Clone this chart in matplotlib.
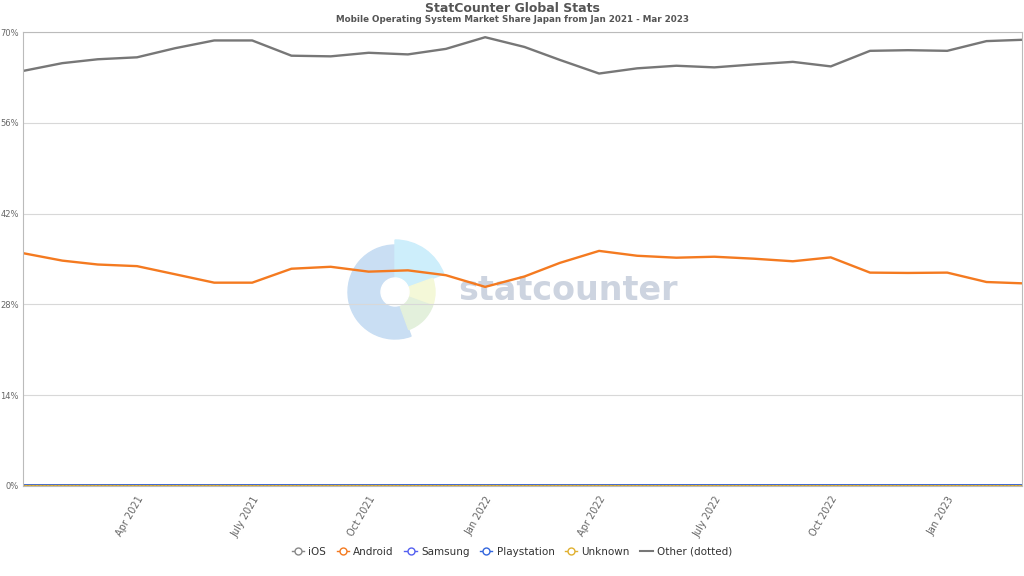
import matplotlib.pyplot as plt
from matplotlib.patches import Wedge, Circle
from matplotlib.lines import Line2D
import pandas as pd

months = pd.date_range('2021-01-01', '2023-03-01', freq='MS')

ios = [64.0, 65.2, 65.8, 66.1, 67.5, 68.7, 68.7, 66.35, 66.25, 66.8, 66.55, 67.4, 69.2,
       67.7, 65.7, 63.6, 64.4, 64.8, 64.55, 65.0, 65.4, 64.7, 67.1, 67.2, 67.1, 68.6, 68.8]
android = [35.9, 34.75, 34.15, 33.9, 32.65, 31.35, 31.35, 33.5, 33.8, 33.05, 33.25, 32.5, 30.7,
           32.3, 34.4, 36.25, 35.5, 35.2, 35.35, 35.05, 34.65, 35.25, 32.9, 32.85, 32.9, 31.45, 31.25]
samsung = [0.12] * 27
playstation = [0.08] * 27
unknown = [0.03, 0.03, 0.03, 0.02, 0.02, 0.03, 0.02, 0.02, 0.03, 0.03, 0.02, 0.02, 0.03,
           0.02, 0.03, 0.03, 0.02, 0.02, 0.02, 0.02, 0.02, 0.02, 0.02, 0.02, 0.02, 0.02, 0.02]
other = [0.05] * 27

tick_months = ['2021-04-01', '2021-07-01', '2021-10-01', '2022-01-01',
               '2022-04-01', '2022-07-01', '2022-10-01', '2023-01-01']
tick_labels = ['Apr 2021', 'July 2021', 'Oct 2021', 'Jan 2022',
               'Apr 2022', 'July 2022', 'Oct 2022', 'Jan 2023']
y_ticks = [0, 14, 28, 42, 56, 70]

fig = plt.figure(figsize=(10.24, 5.76), dpi=100)
ax = fig.add_axes([0.0225, 0.1563, 0.9755, 0.7881])

# watermark logo
cx, cy = 395 / 1024, 1 - 292 / 576
lax = fig.add_axes([cx - 60 / 1024, cy - 60 / 576, 120 / 1024, 120 / 576], zorder=0)
lax.set_xlim(-60, 60)
lax.set_ylim(-60, 60)
lax.set_aspect('equal')
lax.axis('off')
lax.add_patch(Wedge((0, 0), 47, 90, 290, color='#c9def3'))
lax.add_patch(Wedge((0, 0), 52, 20, 90, color='#cdeefb'))
lax.add_patch(Wedge((0, 0), 40, -20, 20, color='#f4f8d8'))
lax.add_patch(Wedge((0, 0), 40, -70, -20, color='#e3f0dc'))
lax.add_patch(Circle((0, 0), 14, color='white'))
fig.text(458 / 1024, 1 - 290 / 576, 'statcounter', fontsize=24, fontweight='bold',
         color='#cdd4e0', va='center', ha='left', zorder=0)
ax.set_zorder(1)
ax.patch.set_alpha(0)

ax.plot(months, ios, color='#777777', lw=1.7, label='iOS')
ax.plot(months, android, color='#f47a20', lw=1.7, label='Android')
ax.plot(months, samsung, color='#5460f0', lw=1.3, label='Samsung')
ax.plot(months, playstation, color='#3366dd', lw=1.3, label='Playstation')
ax.plot(months, unknown, color='#e0b030', lw=1.3, label='Unknown')
ax.plot(months, other, color='#555555', lw=1.0, ls=':', label='Other (dotted)')

ax.set_xlim(months[0], months[-1])
ax.set_ylim(0, 70)
ax.set_yticks(y_ticks)
ax.set_yticklabels([f'{v}%' for v in y_ticks])
ax.yaxis.grid(True, color='#d8d8d8', lw=0.8)
ax.tick_params(axis='y', length=0, labelsize=6, labelcolor='#666666', pad=3)
ax.set_xticks(pd.to_datetime(tick_months))
ax.set_xticklabels(tick_labels, rotation=60, ha='right', rotation_mode='anchor')
ax.tick_params(axis='x', length=0, labelsize=7, labelcolor='#666666', pad=6)
for s in ax.spines.values():
    s.set_color('#bbbbbb')
    s.set_linewidth(0.8)

# legend with open-circle markers
cols = ['#888888', '#f47a20', '#5460f0', '#3366dd', '#e0b030']
names = ['iOS', 'Android', 'Samsung', 'Playstation', 'Unknown']
handles = [Line2D([], [], color=c, marker='o', markerfacecolor='white', markersize=5, lw=1)
           for c in cols]
handles.append(Line2D([], [], color='#777777', lw=1.5))
fig.legend(handles, names + ['Other (dotted)'], loc='center', bbox_to_anchor=(0.5, 1 - 552 / 576),
           ncol=6, frameon=False, fontsize=7.5, handlelength=1.2, handletextpad=0.4,
           columnspacing=1.0, labelcolor='#333333')

fig.text(0.5, 1 - 8 / 576, 'StatCounter Global Stats', ha='center', va='center',
         fontsize=9, fontweight='bold', color='#555555')
fig.text(0.5, 1 - 20 / 576, 'Mobile Operating System Market Share Japan from Jan 2021 - Mar 2023',
         ha='center', va='center', fontsize=6.3, fontweight='bold', color='#555555')

fig.savefig('out.png', dpi=100)
